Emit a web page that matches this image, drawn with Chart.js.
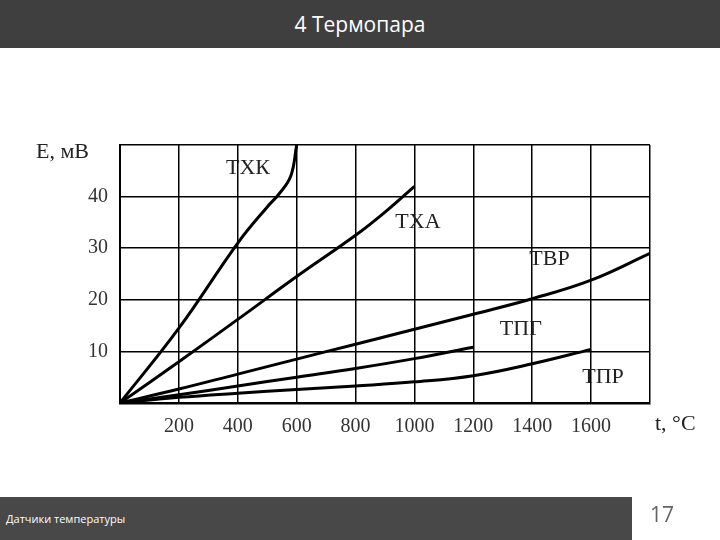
<!DOCTYPE html>
<html><head><meta charset="utf-8">
<script src="https://cdn.jsdelivr.net/npm/chart.js@4"></script>
<style>
body{margin:0;width:720px;height:540px;position:relative;background:#fff;overflow:hidden;font-family:"Open Sans",sans-serif}
#top{position:absolute;left:0;top:0;width:720px;height:48px;background:#3f3f3f;color:#fff;font-size:21px;text-align:center;line-height:48px}
#bot{position:absolute;left:0;top:497px;width:632px;height:43px;background:#484848;color:#fff;font-size:11px;line-height:44px;padding-left:6px;box-sizing:border-box}
#num{position:absolute;left:650px;top:500px;font-size:21px;color:#666}
#c{position:absolute;left:0;top:0}
</style></head><body>
<canvas id="c" width="720" height="540"></canvas>
<div id="top">4 Термопара</div>
<div id="bot">Датчики температуры</div>
<div id="num">17</div>
<script>
const xTicks = [200, 400, 600, 800, 1000, 1200, 1400, 1600];
const yTicks = [10, 20, 30, 40];
const seriesNames = ['ТХК', 'ТХА', 'ТВР', 'ТПГ', 'ТПР'];
const txkT = [0, 200, 400, 500, 540, 580, 600];
const txkE = [0, 14.5, 31, 38, 40.5, 44, 50];
const txaT = [0, 200, 400, 600, 800, 900, 1000];
const txaE = [0, 8, 16.2, 24.5, 32.5, 37, 42];
const tvrT = [0, 200, 400, 600, 800, 1000, 1200, 1400, 1600, 1800];
const tvrE = [0, 2.7, 5.6, 8.5, 11.4, 14.3, 17.2, 20.2, 23.8, 29];
const tpgT = [0, 200, 400, 600, 800, 1000, 1200];
const tpgE = [0, 1.6, 3.3, 5, 6.7, 8.6, 10.8];
const tprT = [0, 200, 400, 600, 800, 1000, 1200, 1400, 1600];
const tprE = [0, 1.1, 1.9, 2.6, 3.3, 4.1, 5.3, 7.6, 10.4];
const labelPos = [[360, 45.5], [935, 35], [1390, 27.8], [1290, 14.3], [1570, 5]];

const pts = (t, e) => t.map((v, i) => ({x: v, y: e[i]}));
const sets = [[txkT, txkE], [txaT, txaE], [tvrT, tvrE], [tpgT, tpgE], [tprT, tprE]].map((s, i) => ({
  label: seriesNames[i], data: pts(s[0], s[1]), borderColor: '#000', borderWidth: 3,
  pointRadius: 0, tension: 0.4, fill: false
}));
const serif = '"Liberation Serif", "DejaVu Serif", serif';

const labels = {
  id: 'labels',
  afterDatasetsDraw(ch) {
    const c = ch.ctx, x = ch.scales.x, y = ch.scales.y;
    c.save();
    c.fillStyle = '#222';
    c.font = '22px ' + serif;
    c.textAlign = 'left';
    c.textBaseline = 'middle';
    seriesNames.forEach((n, i) => c.fillText(n, x.getPixelForValue(labelPos[i][0]), y.getPixelForValue(labelPos[i][1])));
    c.fillText('E, мВ', 36, 152);
    c.fillText('t, °C', 655, 424);
    c.restore();
  }
};

new Chart(document.getElementById('c'), {
  type: 'line',
  data: {datasets: sets},
  options: {
    responsive: false, animation: false,
    layout: {padding: {top: 145, right: 70, left: 0, bottom: 0}},
    plugins: {legend: {display: false}, tooltip: {enabled: false}},
    scales: {
      x: {type: 'linear', min: 0, max: 1800,
        afterBuildTicks: s => { s.ticks = [0, ...xTicks, 1800].map(v => ({value: v})); },
        afterFit: s => { s.height = 137; },
        grid: {color: '#000', lineWidth: 1.5, drawTicks: false},
        border: {color: '#000', width: 2.5},
        ticks: {padding: 12, maxRotation: 0, color: '#333', font: {family: serif, size: 20},
          callback: v => xTicks.includes(v) ? v : ''}
      },
      y: {min: 0, max: 50,
        afterBuildTicks: s => { s.ticks = [0, ...yTicks, 50].map(v => ({value: v})); },
        afterFit: s => { s.width = 120; },
        grid: {color: '#000', lineWidth: 1.5, drawTicks: false},
        border: {color: '#000', width: 2},
        ticks: {padding: 12, color: '#333', font: {family: serif, size: 20},
          callback: v => yTicks.includes(v) ? v : ''}
      }
    }
  },
  plugins: [labels]
});
</script>
</body></html>
